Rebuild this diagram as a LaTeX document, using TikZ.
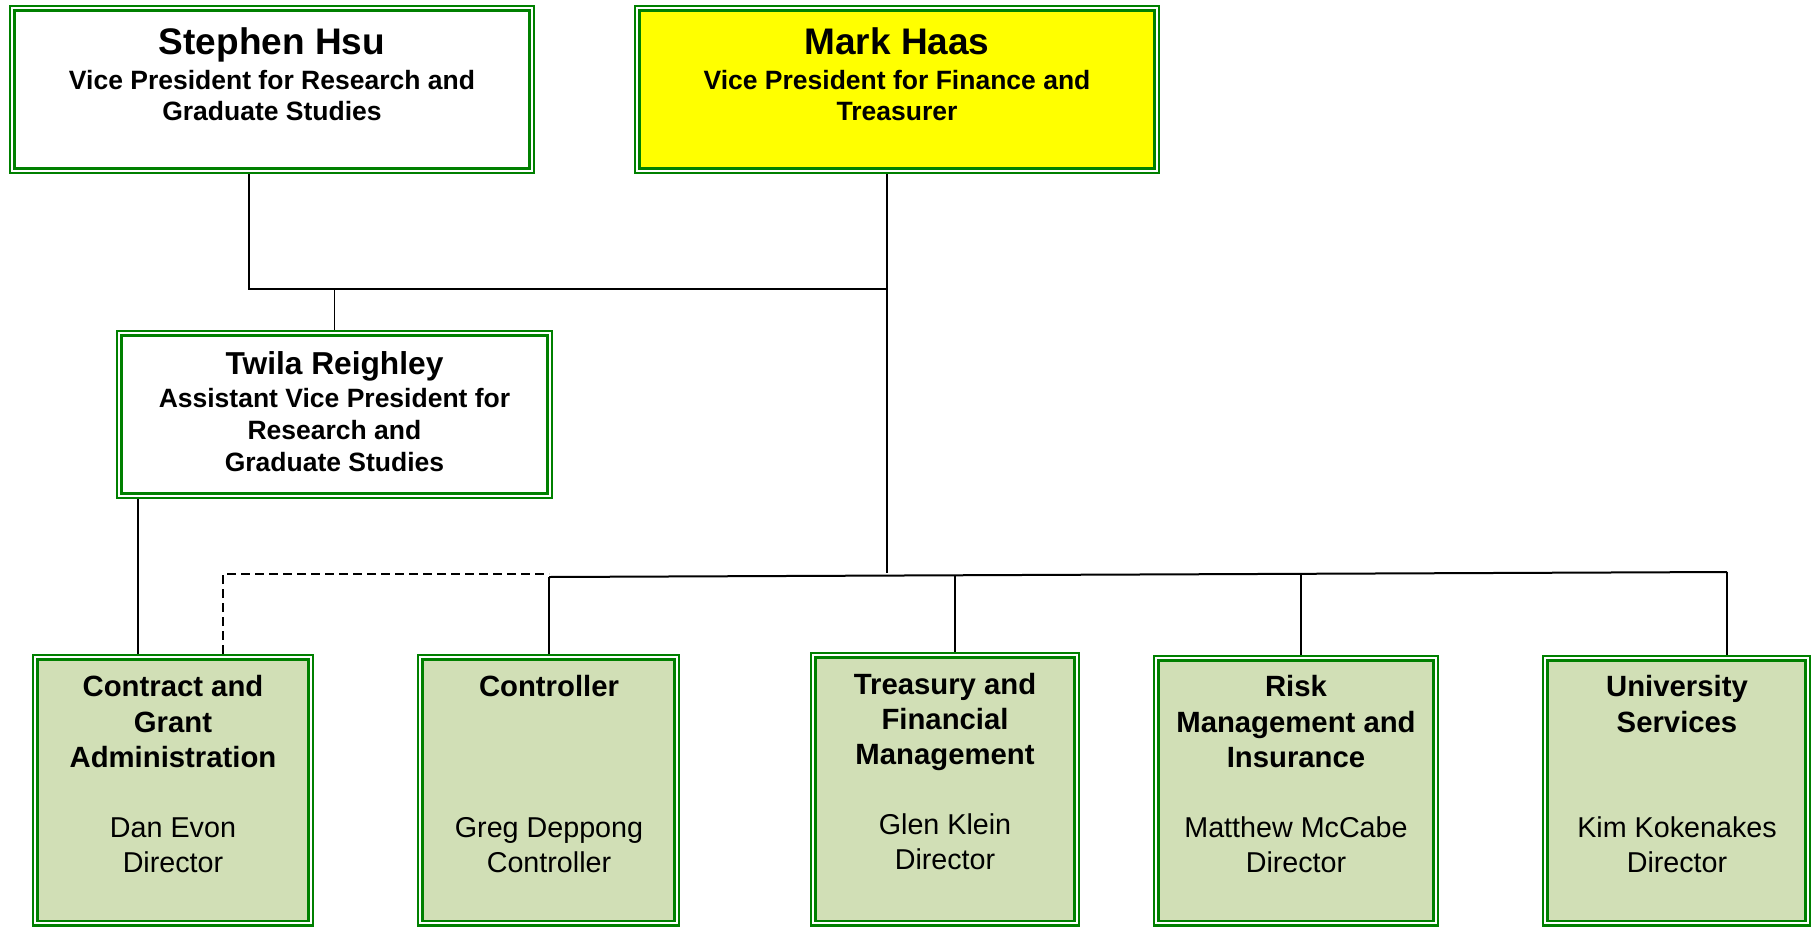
\documentclass[tikz,border=0pt]{standalone}
\usepackage{fontspec}
\setmainfont{Liberation Sans}
\usetikzlibrary{calc}

\definecolor{orggreen}{RGB}{0,128,0}
\definecolor{unitfill}{RGB}{209,223,182}
\definecolor{vpyellow}{RGB}{255,255,0}

% font settings for the different text levels
\newcommand\fTitle{\fontsize{37}{42}\selectfont\bfseries}
\newcommand\fSub{\fontsize{26.5}{31}\selectfont\bfseries}
\newcommand\fTwTitle{\fontsize{31.7}{36}\selectfont\bfseries}
\newcommand\fTwSub{\fontsize{26.5}{32}\selectfont\bfseries}
\newcommand\fHead{\fontsize{29.3}{35.3}\selectfont\bfseries}
\newcommand\fName{\fontsize{28.7}{34.8}\selectfont}
\newcommand\firstline{\rule{0pt}{1em}}

\tikzset{
  orgbox/.style={draw=orggreen, double=white, line width=2.2pt,
    double distance=2.2pt, inner sep=0pt, outer sep=3.3pt, anchor=north west},
  vpbox/.style={orgbox, fill=white},
  unitbox/.style={orgbox, fill=unitfill},
  txt/.style={inner sep=0pt, align=center, anchor=north},
  ttl/.style={inner sep=0pt, anchor=base},
  conn/.style={line width=1.5pt, black},
  bus/.style={line width=2pt, black},
  dotted link/.style={line width=1.5pt, black, dash pattern=on 9pt off 5pt},
}

\begin{document}
\begin{tikzpicture}[x=1pt, y=-1pt]
\useasboundingbox (0,0) rectangle (1817,926);

% ---- boxes (placed by the outer edge of their double frame) ----
\node[vpbox, minimum width=519.4pt, minimum height=162.4pt] (hsu) at (9,5) {};
\node[vpbox, fill=vpyellow, minimum width=519.4pt, minimum height=162.4pt] (haas) at (634,5) {};
\node[vpbox, minimum width=430.4pt, minimum height=162.4pt] (twila) at (116,330) {};

\node[unitbox, minimum width=275.4pt, minimum height=266pt] (cga) at (32,654) {};
\node[unitbox, minimum width=256.4pt, minimum height=266pt] (ctrl) at (417,654) {};
\node[unitbox, minimum width=263.4pt, minimum height=268pt] (treas) at (810,652) {};
\node[unitbox, minimum width=279.4pt, minimum height=265pt] (risk) at (1153,655) {};
\node[unitbox, minimum width=262.4pt, minimum height=265pt] (univ) at (1542,655) {};

% ---- texts ----
\node[ttl, font=\fTitle] (hsuT) at (272,54) {Stephen Hsu};
\node[txt, font=\fSub] (hsuS) at (272,63) {\firstline Vice President for Research and\\Graduate Studies};

\node[ttl, font=\fTitle] (haasT) at (897,54) {Mark Haas};
\node[txt, font=\fSub] (haasS) at (897,63) {\firstline Vice President for Finance and\\Treasurer};

\node[ttl, font=\fTwTitle] (twT) at (334.5,374) {Twila Reighley};
\node[txt, font=\fTwSub] (twS) at (334.5,380.5) {\firstline Assistant Vice President for\\Research and\\Graduate Studies};

\node[txt, font=\fHead] (cgaH) at (173,667.2) {\firstline Contract and\\Grant\\Administration};
\node[txt, font=\fName] (cgaN) at (173,809) {\firstline Dan Evon\\Director};

\node[txt, font=\fHead] (ctrlH) at (549,667.2) {\firstline Controller};
\node[txt, font=\fName] (ctrlN) at (549,809) {\firstline Greg Deppong\\Controller};

\node[txt, font=\fHead] (treasH) at (945,664.7) {\firstline Treasury and\\Financial\\Management};
\node[txt, font=\fName] (treasN) at (945,805.3) {\firstline Glen Klein\\Director};

\node[txt, font=\fHead] (riskH) at (1296,667.2) {\firstline Risk\\Management and\\Insurance};
\node[txt, font=\fName] (riskN) at (1296,809) {\firstline Matthew McCabe\\Director};

\node[txt, font=\fHead] (univH) at (1677,667.2) {\firstline University\\Services};
\node[txt, font=\fName] (univN) at (1677,809) {\firstline Kim Kokenakes\\Director};

% ---- junction points ----
\coordinate (jHsu) at (249,289);
\coordinate (jHaas) at (887,289);
\coordinate (haasEnd) at (887,573);
\coordinate (twDown) at (138,0);
\coordinate (dashX) at (223,0);
\coordinate (dashEnd) at (549,574);
\coordinate (busL) at (549,577);
\coordinate (busR) at (1727,572);
\coordinate (tapTreas) at ($(busL)!0.3447!(busR)$);
\coordinate (tapRisk) at ($(busL)!0.6384!(busR)$);

% ---- connectors ----
\draw[conn] (hsu.south -| jHsu) |- (jHaas);
\draw[conn] (haas.south -| jHaas) -- (haasEnd);
\draw[conn] (jHsu -| twila.north) -- (twila.north);
\draw[conn] (twila.south -| twDown) -- (cga.north -| twDown);
\draw[dotted link] (cga.north -| dashX) |- (dashEnd);
\draw[bus] (busL) -- (busR);
\draw[conn] (busL) -- (ctrl.north -| busL);
\draw[conn] (tapTreas) -- (treas.north -| tapTreas);
\draw[conn] (tapRisk) -- (risk.north -| tapRisk);
\draw[conn] (busR) -- (univ.north -| busR);
\end{tikzpicture}
\end{document}
